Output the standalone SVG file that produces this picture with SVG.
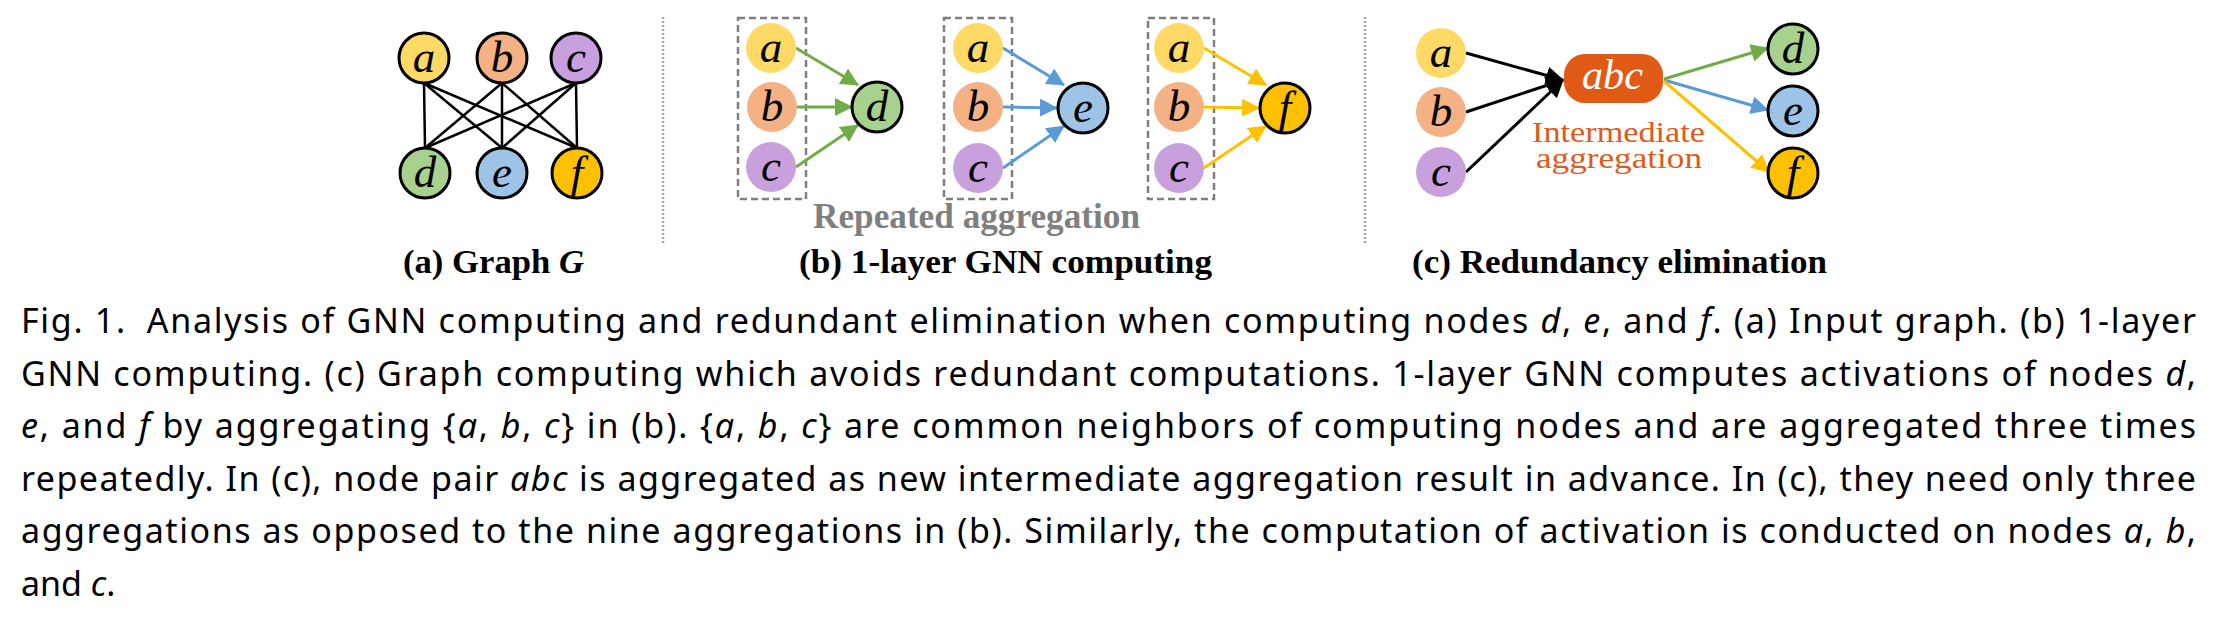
<svg xmlns="http://www.w3.org/2000/svg" width="2238" height="622" viewBox="0 0 2238 622">
<style>
  .nl { font-family: "Liberation Serif", "Times New Roman", serif; font-style: italic; font-size: 45px; fill: #000; text-anchor: middle; }
  .ns { stroke: #000; stroke-width: 3; }
  .ca { fill: #FFD966; }
  .cb { fill: #F4B183; }
  .cc { fill: #C9A0DE; }
  .cd { fill: #A9D18E; }
  .ce { fill: #9DC3E6; }
  .cf { fill: #FFC000; }
  .edge { stroke: #000; stroke-width: 2.5; fill: none; }
  .ag { stroke: #70AD47; stroke-width: 3; fill: none; marker-end: url(#mg); }
  .ab { stroke: #5B9BD5; stroke-width: 3; fill: none; marker-end: url(#mb); }
  .ay { stroke: #FFC000; stroke-width: 3; fill: none; marker-end: url(#my); }
  .ak { stroke: #000; stroke-width: 3; fill: none; marker-end: url(#mk); }
  .box { fill: none; stroke: #7F7F7F; stroke-width: 2.5; stroke-dasharray: 7 4; }
  .sep { stroke: #A6A6A6; stroke-width: 2.5; stroke-dasharray: 2 2; }
  .lbl { font-family: "Liberation Serif", "Times New Roman", serif; font-weight: bold; font-size: 34px; fill: #000; }
  .rep { font-family: "Liberation Serif", "Times New Roman", serif; font-weight: bold; font-size: 35px; fill: #7F7F7F; }
  .org { font-family: "Liberation Serif", "Times New Roman", serif; font-size: 29px; fill: #E05A1A; }
  .cap { font-family: "Noto Sans", "Liberation Sans", sans-serif; font-size: 34px; fill: #000; }
  .it { font-style: italic; }
</style>
<defs>
  <marker id="mg" viewBox="0 0 18 18" refX="17" refY="9" markerWidth="18" markerHeight="18" markerUnits="userSpaceOnUse" orient="auto"><path d="M0,0 L18,9 L0,18 z" fill="#70AD47"/></marker>
  <marker id="mb" viewBox="0 0 18 18" refX="17" refY="9" markerWidth="18" markerHeight="18" markerUnits="userSpaceOnUse" orient="auto"><path d="M0,0 L18,9 L0,18 z" fill="#5B9BD5"/></marker>
  <marker id="my" viewBox="0 0 18 18" refX="17" refY="9" markerWidth="18" markerHeight="18" markerUnits="userSpaceOnUse" orient="auto"><path d="M0,0 L18,9 L0,18 z" fill="#FFC000"/></marker>
  <marker id="mk" viewBox="0 0 18 18" refX="17" refY="9" markerWidth="18" markerHeight="18" markerUnits="userSpaceOnUse" orient="auto"><path d="M0,0 L18,9 L0,18 z" fill="#000"/></marker>
</defs>

<!-- separators -->
<line class="sep" x1="663" y1="17" x2="663" y2="243"/>
<line class="sep" x1="1365" y1="17" x2="1365" y2="243"/>

<!-- (a) Graph G -->
<g id="connectors-a">
  <line class="edge" x1="424" y1="83" x2="425" y2="148"/>
  <line class="edge" x1="424" y1="83" x2="502" y2="148"/>
  <line class="edge" x1="424" y1="83" x2="577" y2="148"/>
  <line class="edge" x1="502" y1="83" x2="425" y2="148"/>
  <line class="edge" x1="502" y1="83" x2="502" y2="148"/>
  <line class="edge" x1="502" y1="83" x2="577" y2="148"/>
  <line class="edge" x1="576" y1="83" x2="425" y2="148"/>
  <line class="edge" x1="576" y1="83" x2="502" y2="148"/>
  <line class="edge" x1="576" y1="83" x2="577" y2="148"/>
</g>
<g id="ga-a"><circle class="ca ns" cx="424" cy="58" r="25"/><text class="nl" x="424" y="72">a</text></g>
<g id="ga-b"><circle class="cb ns" cx="502" cy="58" r="25"/><text class="nl" x="502" y="72">b</text></g>
<g id="ga-c"><circle class="cc ns" cx="576" cy="58" r="25"/><text class="nl" x="576" y="72">c</text></g>
<g id="ga-d"><circle class="cd ns" cx="425" cy="173" r="25"/><text class="nl" x="425" y="187">d</text></g>
<g id="ga-e"><circle class="ce ns" cx="502" cy="173" r="25"/><text class="nl" x="502" y="187">e</text></g>
<g id="ga-f"><circle class="cf ns" cx="577" cy="173" r="25"/><text class="nl" x="577" y="187">f</text></g>
<text class="lbl" x="403" y="273" textLength="181" lengthAdjust="spacingAndGlyphs">(a) Graph <tspan class="it">G</tspan></text>

<!-- (b) 1-layer GNN computing -->
<rect class="box" x="738" y="18" width="68" height="181"/>
<rect class="box" x="944" y="18" width="68" height="181"/>
<rect class="box" x="1148" y="18" width="66" height="181"/>
<g id="connectors-b">
  <line class="ag" x1="796" y1="48" x2="858" y2="85"/>
  <line class="ag" x1="797" y1="107" x2="852" y2="107"/>
  <line class="ag" x1="796" y1="167" x2="858" y2="125"/>
  <line class="ab" x1="1003" y1="48" x2="1064" y2="85"/>
  <line class="ab" x1="1003" y1="107" x2="1057" y2="108"/>
  <line class="ab" x1="1003" y1="168" x2="1064" y2="126"/>
  <line class="ay" x1="1204" y1="48" x2="1266" y2="85"/>
  <line class="ay" x1="1204" y1="107" x2="1259" y2="108"/>
  <line class="ay" x1="1204" y1="168" x2="1266" y2="126"/>
</g>
<g id="gb1-a"><circle class="ca" cx="771" cy="48" r="25"/><text class="nl" x="771" y="62">a</text></g>
<g id="gb1-b"><circle class="cb" cx="772" cy="107" r="25"/><text class="nl" x="772" y="121">b</text></g>
<g id="gb1-c"><circle class="cc" cx="771" cy="167" r="25"/><text class="nl" x="771" y="181">c</text></g>
<g id="gb-d"><circle class="cd ns" cx="877" cy="107" r="25"/><text class="nl" x="877" y="121">d</text></g>
<g id="gb2-a"><circle class="ca" cx="978" cy="48" r="25"/><text class="nl" x="978" y="62">a</text></g>
<g id="gb2-b"><circle class="cb" cx="978" cy="107" r="25"/><text class="nl" x="978" y="121">b</text></g>
<g id="gb2-c"><circle class="cc" cx="978" cy="168" r="25"/><text class="nl" x="978" y="182">c</text></g>
<g id="gb-e"><circle class="ce ns" cx="1083" cy="108" r="25"/><text class="nl" x="1083" y="122">e</text></g>
<g id="gb3-a"><circle class="ca" cx="1179" cy="48" r="25"/><text class="nl" x="1179" y="62">a</text></g>
<g id="gb3-b"><circle class="cb" cx="1179" cy="107" r="25"/><text class="nl" x="1179" y="121">b</text></g>
<g id="gb3-c"><circle class="cc" cx="1179" cy="168" r="25"/><text class="nl" x="1179" y="182">c</text></g>
<g id="gb-f"><circle class="cf ns" cx="1285" cy="108" r="25"/><text class="nl" x="1285" y="122">f</text></g>
<text class="rep" x="813" y="228" textLength="327" lengthAdjust="spacingAndGlyphs">Repeated aggregation</text>
<text class="lbl" x="799" y="273" textLength="413" lengthAdjust="spacingAndGlyphs">(b) 1-layer GNN computing</text>

<!-- (c) Redundancy elimination -->
<g id="connectors-c">
  <line class="ak" x1="1466" y1="53" x2="1563" y2="80"/>
  <line class="ak" x1="1466" y1="112" x2="1563" y2="80"/>
  <line class="ak" x1="1466" y1="172" x2="1563" y2="80"/>
  <line class="ag" x1="1664" y1="79" x2="1768" y2="48"/>
  <line class="ab" x1="1664" y1="80" x2="1768" y2="110"/>
  <line class="ay" x1="1664" y1="81" x2="1769" y2="172"/>
</g>
<g id="gc-a"><circle class="ca" cx="1441" cy="53" r="25"/><text class="nl" x="1441" y="67">a</text></g>
<g id="gc-b"><circle class="cb" cx="1441" cy="112" r="25"/><text class="nl" x="1441" y="126">b</text></g>
<g id="gc-c"><circle class="cc" cx="1441" cy="172" r="25"/><text class="nl" x="1441" y="186">c</text></g>
<g id="gc-abc">
  <rect x="1564" y="54" width="99" height="49" rx="21" fill="#E05A15"/>
  <text x="1582" y="89" font-family="Liberation Serif, serif" font-style="italic" font-size="42" fill="#fff" textLength="61" lengthAdjust="spacingAndGlyphs">abc</text>
</g>
<g id="gc-d"><circle class="cd ns" cx="1793" cy="49" r="25"/><text class="nl" x="1793" y="63">d</text></g>
<g id="gc-e"><circle class="ce ns" cx="1793" cy="111" r="25"/><text class="nl" x="1793" y="125">e</text></g>
<g id="gc-f"><circle class="cf ns" cx="1793" cy="173" r="25"/><text class="nl" x="1793" y="187">f</text></g>
<text class="org" x="1532" y="142" textLength="173" lengthAdjust="spacingAndGlyphs">Intermediate</text>
<text class="org" x="1536" y="168" textLength="166" lengthAdjust="spacingAndGlyphs">aggregation</text>
<text class="lbl" x="1412" y="273" textLength="415" lengthAdjust="spacingAndGlyphs">(c) Redundancy elimination</text>

<!-- caption -->
<text class="cap" x="21" y="333" textLength="2175" lengthAdjust="spacing">Fig. 1.<tspan dx="20">Analysis of GNN computing and redundant elimination when computing nodes </tspan><tspan class="it">d</tspan>, <tspan class="it">e</tspan>, and <tspan class="it">f</tspan>. (a) Input graph. (b) 1-layer</text>
<text class="cap" x="21" y="386" textLength="2175" lengthAdjust="spacing">GNN computing. (c) Graph computing which avoids redundant computations. 1-layer GNN computes activations of nodes <tspan class="it">d</tspan>,</text>
<text class="cap" x="21" y="438" textLength="2175" lengthAdjust="spacing"><tspan class="it">e</tspan>, and <tspan class="it">f</tspan> by aggregating {<tspan class="it">a</tspan>, <tspan class="it">b</tspan>, <tspan class="it">c</tspan>} in (b). {<tspan class="it">a</tspan>, <tspan class="it">b</tspan>, <tspan class="it">c</tspan>} are common neighbors of computing nodes and are aggregated three times</text>
<text class="cap" x="21" y="491" textLength="2175" lengthAdjust="spacing">repeatedly. In (c), node pair <tspan class="it">abc</tspan> is aggregated as new intermediate aggregation result in advance. In (c), they need only three</text>
<text class="cap" x="21" y="543" textLength="2175" lengthAdjust="spacing">aggregations as opposed to the nine aggregations in (b). Similarly, the computation of activation is conducted on nodes <tspan class="it">a</tspan>, <tspan class="it">b</tspan>,</text>
<text class="cap" x="21" y="596">and <tspan class="it">c</tspan>.</text>
</svg>
